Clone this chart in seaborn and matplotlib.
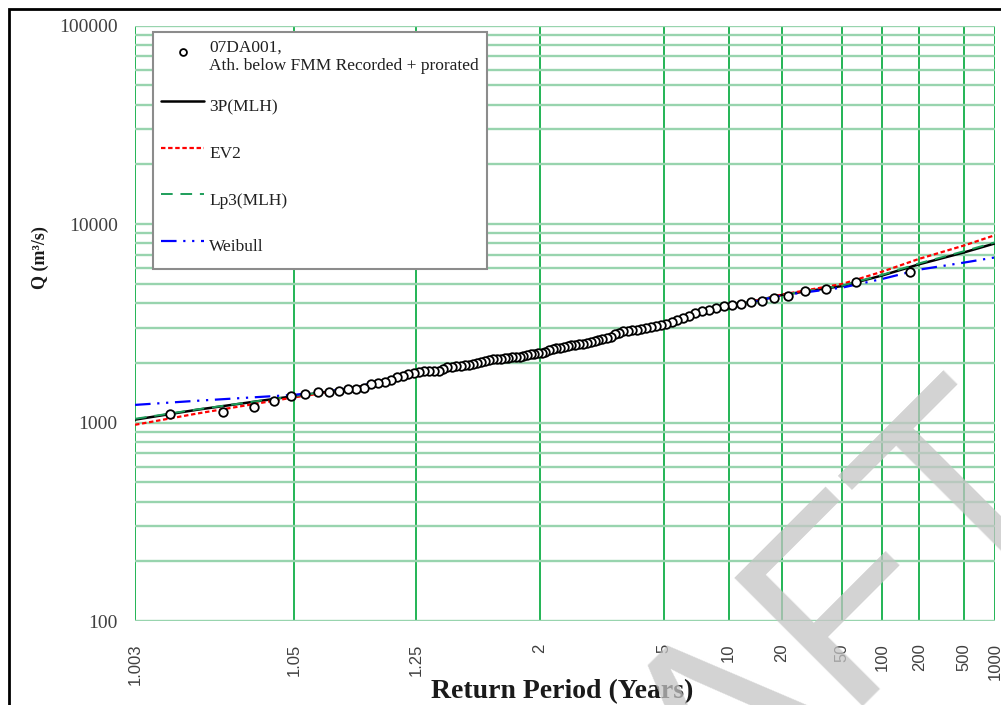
import numpy as np
import matplotlib
matplotlib.use("Agg")
import matplotlib.pyplot as plt
import seaborn as sns
from statistics import NormalDist

# Flood frequency plot, 07DA001 Athabasca below Fort McMurray
# observed annual peaks (ranked) and four fitted distributions

# observed data: return period (years) and flow (m3/s), rank 1 = largest
obs_T = [167.0, 62.63, 38.54, 27.83, 21.78, 17.89, 15.18, 13.18, 11.65, 10.44,
         9.453, 8.638, 7.952, 7.368, 6.863, 6.423, 6.036, 5.693, 5.387, 5.112,
         4.864, 4.639, 4.434, 4.246, 4.073, 3.914, 3.767, 3.630, 3.503, 3.385,
         3.275, 3.171, 3.074, 2.982, 2.896, 2.815, 2.738, 2.665, 2.596, 2.530,
         2.467, 2.409, 2.352, 2.298, 2.247, 2.197, 2.150, 2.105, 2.062, 2.020,
         1.980, 1.942, 1.905, 1.869, 1.835, 1.802, 1.770, 1.740, 1.710, 1.681,
         1.653, 1.627, 1.601, 1.575, 1.551, 1.527, 1.505, 1.482, 1.461, 1.440,
         1.419, 1.399, 1.380, 1.361, 1.343, 1.326, 1.308, 1.291, 1.275, 1.259,
         1.243, 1.228, 1.213, 1.199, 1.184, 1.171, 1.157, 1.144, 1.131, 1.118,
         1.106, 1.094, 1.082, 1.071, 1.059, 1.048, 1.037, 1.027, 1.016, 1.006]
obs_Q = [5770, 5090, 4710, 4580, 4370, 4230, 4110, 4030, 3940, 3900,
         3860, 3770, 3700, 3630, 3550, 3450, 3350, 3270, 3220, 3150,
         3100, 3070, 3030, 2990, 2970, 2940, 2920, 2910, 2890, 2840,
         2780, 2710, 2680, 2650, 2620, 2580, 2540, 2510, 2490, 2480,
         2460, 2450, 2430, 2410, 2390, 2380, 2350, 2310, 2280, 2250,
         2230, 2220, 2210, 2190, 2170, 2150, 2140, 2130, 2120, 2110,
         2100, 2090, 2080, 2070, 2040, 2020, 1990, 1970, 1950, 1940,
         1930, 1930, 1910, 1900, 1860, 1830, 1810, 1810, 1810, 1800,
         1780, 1760, 1720, 1690, 1640, 1600, 1590, 1560, 1490, 1470,
         1470, 1450, 1430, 1420, 1390, 1360, 1290, 1200, 1130, 1100]

# fitted curves
fit_T = [1.003, 1.01, 1.05, 1.11, 1.25, 1.5, 2, 3, 5, 10, 20, 50, 100, 200, 500, 1000]
q_3p = [1035, 1160, 1360, 1480, 1770, 1990, 2250, 2640, 3120, 3830, 4400, 4880, 5520, 6280, 7200, 8000]
q_ev2 = [975, 1110, 1340, 1475, 1765, 1990, 2250, 2640, 3120, 3840, 4420, 5000, 5770, 6690, 7800, 8800]
q_lp3 = [1045, 1165, 1360, 1480, 1770, 1990, 2250, 2640, 3120, 3830, 4400, 4900, 5560, 6350, 7300, 8100]
q_weib = [1228, 1288, 1380, 1490, 1775, 1995, 2250, 2640, 3110, 3810, 4380, 4790, 5300, 5900, 6400, 6800]

x_ticks = [1.003, 1.05, 1.25, 2, 5, 10, 20, 50, 100, 200, 500, 1000]
x_labels = ["1.003", "1.05", "1.25", "2", "5", "10", "20", "50", "100", "200", "500", "1000"]
y_ticks = [100, 1000, 10000, 100000]
y_labels = ["100", "1000", "10000", "100000"]

# normal probability scale for return period
_nd = NormalDist()
_ppf = np.vectorize(_nd.inv_cdf, otypes=[float])
_cdf = np.vectorize(_nd.cdf, otypes=[float])


def fwd(t):
    t = np.asarray(t, dtype=float)
    p = 1.0 - 1.0 / np.clip(t, 1.0 + 1e-9, 1e12)
    return _ppf(np.clip(p, 1e-9, 1 - 1e-9))


def inv(z):
    z = np.asarray(z, dtype=float)
    return 1.0 / (1.0 - _cdf(np.clip(z, -8, 8)))


sns.set_style("white")
plt.rcParams["font.family"] = ["Liberation Serif", "DejaVu Serif"]

fig = plt.figure(figsize=(10.01, 7.05), dpi=100)
ax = fig.add_axes([0.1349, 0.1191, 0.8591, 0.8444])
ax.set_xscale("function", functions=(fwd, inv))
ax.set_yscale("log")

sns.scatterplot(x=obs_T, y=obs_Q, ax=ax, marker="o", s=38, facecolor="white",
                edgecolor="black", linewidth=1.3, zorder=6,
                label="07DA001,\nAth. below FMM Recorded + prorated")
sns.lineplot(x=fit_T, y=q_3p, ax=ax, color="black", linewidth=1.8, zorder=3, label="3P(MLH)")
sns.lineplot(x=fit_T, y=q_ev2, ax=ax, color="#ff0000", linewidth=1.6,
             linestyle=(0, (2, 1.2)), zorder=4, label="EV2")
sns.lineplot(x=fit_T, y=q_lp3, ax=ax, color="#1e9e5a", linewidth=1.4,
             linestyle=(0, (6, 4)), zorder=4, label="Lp3(MLH)")
sns.lineplot(x=fit_T, y=q_weib, ax=ax, color="#0000ff", linewidth=1.6,
             linestyle=(0, (7, 3, 1, 3, 1, 3)), zorder=5, label="Weibull")

ax.set_xlim(1.003, 1000)
ax.set_ylim(100, 100000)
ax.set_xticks(x_ticks, labels=x_labels)
ax.set_yticks(y_ticks, labels=y_labels)
ax.xaxis.set_minor_locator(matplotlib.ticker.NullLocator())

ax.set_axisbelow(True)
ax.grid(axis="x", which="major", color="#22b455", linewidth=1.4)
ax.grid(axis="y", which="both", color="#98d4ae", linewidth=1.7)
for s in ax.spines.values():
    s.set_visible(False)

ax.tick_params(axis="x", length=0, pad=16, labelrotation=90, labelsize=12,
               labelcolor="#404040")
for lab in ax.get_xticklabels():
    lab.set_family(["Liberation Sans", "DejaVu Sans"])
ax.tick_params(axis="y", which="major", length=3.5, width=1, color="#8a8a8a",
               direction="out", labelsize=14, labelcolor="#404040", pad=9)
ax.tick_params(axis="y", which="minor", length=0)

ax.set_ylabel("Q (m³/s)", fontsize=13, fontweight="bold", color="#1a1a1a")
ax.yaxis.set_label_coords(-0.10, 0.61)
ax.set_xlabel("Return Period (Years)", fontsize=20, fontweight="bold", color="#1a1a1a")
ax.xaxis.set_label_coords(0.4965, -0.098)

leg = ax.legend(loc="upper left", bbox_to_anchor=(0.0209, 0.9894), borderaxespad=0,
                frameon=True, fancybox=False, framealpha=1, edgecolor="#8c8c8c",
                fontsize=12.5, handlelength=2.5, handletextpad=0.3, borderpad=0.45,
                labelspacing=0.95, handleheight=2.3, markerscale=0.8)
leg.get_frame().set_linewidth(1.5)
for t in leg.get_texts():
    t.set_color("#202020")

# DRAFT watermark
fig.text(0.4480, -0.560, "DRAFT", rotation=45, rotation_mode="anchor", ha="left",
         va="baseline", fontsize=190, family="Liberation Sans", color="#c4c4c4",
         alpha=0.75, zorder=10)

# page border
fig.add_artist(plt.Rectangle((0.009, -0.05), 1.2, 0.9872 + 0.05, transform=fig.transFigure,
                             fill=False, edgecolor="black", linewidth=2, clip_on=False))

fig.savefig("out.png", dpi=100)
